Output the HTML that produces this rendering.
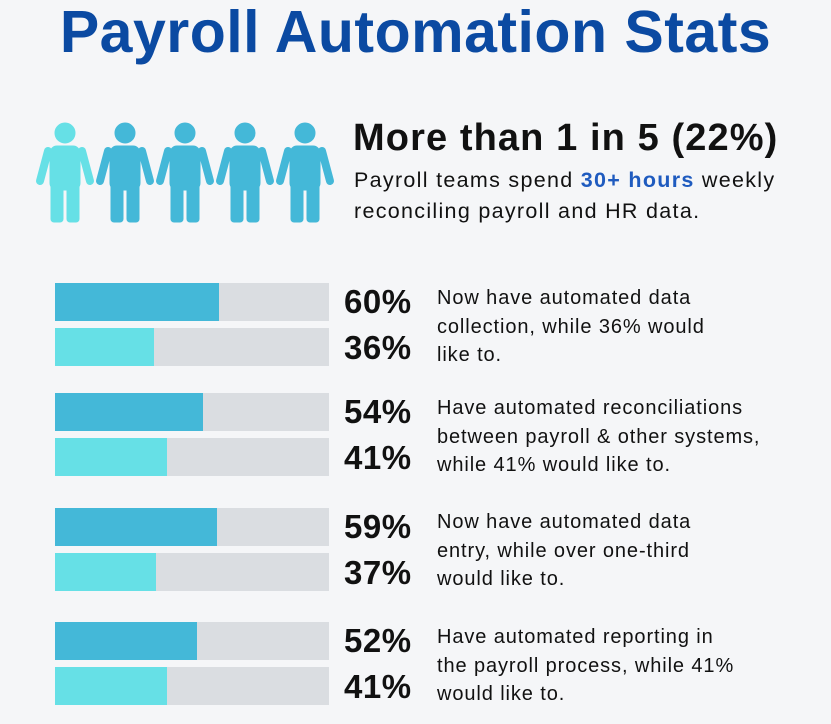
<!DOCTYPE html>
<html><head><style>
body{margin:0;width:831px;height:724px;background:#f5f6f8;position:relative;overflow:hidden;font-family:"Liberation Sans",sans-serif;color:#111}
.t{position:absolute;white-space:nowrap}
.bar{position:absolute;left:55px;width:274px;height:38px;background:#dadde1}
.bar div{height:100%}
.d{background:#44b8d8}.l{background:#66e0e6}
.p{position:absolute;left:344px;font-weight:bold;font-size:33px;line-height:38px;letter-spacing:0.5px}
.desc{position:absolute;left:437px;font-size:20px;line-height:28.5px;width:390px;letter-spacing:0.9px;white-space:nowrap}
</style></head><body>
<div class="t" style="left:0;width:831px;text-align:center;top:-3px;font-size:59px;font-weight:bold;color:#0b4aa2;line-height:70px;letter-spacing:0.5px">Payroll Automation Stats</div>
<svg style="position:absolute;left:0;top:0" width="340" height="240">
<defs><g id="p"><circle cx="0" cy="10" r="10"/><rect x="-15" y="23" width="30" height="44" rx="7"/><rect x="-14" y="55" width="12" height="44" rx="3"/><rect x="2" y="55" width="12" height="44" rx="3"/><line x1="-17" y1="28" x2="-25" y2="58" stroke-width="8" stroke-linecap="round"/><line x1="17" y1="28" x2="25" y2="58" stroke-width="8" stroke-linecap="round"/></g></defs>
<use href="#p" x="65" y="123" fill="#66e0e6" stroke="#66e0e6"/>
<use href="#p" x="125" y="123" fill="#44b8d8" stroke="#44b8d8"/>
<use href="#p" x="185" y="123" fill="#44b8d8" stroke="#44b8d8"/>
<use href="#p" x="245" y="123" fill="#44b8d8" stroke="#44b8d8"/>
<use href="#p" x="305" y="123" fill="#44b8d8" stroke="#44b8d8"/>
</svg>
<div class="t" style="left:353px;top:116px;font-size:38px;font-weight:bold;line-height:44px;letter-spacing:1.1px">More than 1 in 5 (22%)</div>
<div class="t" style="left:354px;top:165px;font-size:21.5px;line-height:31px;letter-spacing:1.3px">Payroll teams spend <b style="color:#1f5bbf">30+ hours</b> weekly<br>reconciling payroll and HR data.</div>

<div class="bar" style="top:283px"><div class="d" style="width:60%"></div></div>
<div class="bar" style="top:328px"><div class="l" style="width:36%"></div></div>
<div class="p" style="top:283px">60%</div><div class="p" style="top:329px">36%</div>
<div class="desc" style="top:284px">Now have automated data<br>collection, while 36% would<br>like to.</div>

<div class="bar" style="top:393px"><div class="d" style="width:54%"></div></div>
<div class="bar" style="top:438px"><div class="l" style="width:41%"></div></div>
<div class="p" style="top:393px">54%</div><div class="p" style="top:439px">41%</div>
<div class="desc" style="top:394px">Have automated reconciliations<br>between payroll &amp; other systems,<br>while 41% would like to.</div>

<div class="bar" style="top:508px"><div class="d" style="width:59%"></div></div>
<div class="bar" style="top:553px"><div class="l" style="width:37%"></div></div>
<div class="p" style="top:508px">59%</div><div class="p" style="top:554px">37%</div>
<div class="desc" style="top:508px">Now have automated data<br>entry, while over one-third<br>would like to.</div>

<div class="bar" style="top:622px"><div class="d" style="width:52%"></div></div>
<div class="bar" style="top:667px"><div class="l" style="width:41%"></div></div>
<div class="p" style="top:622px">52%</div><div class="p" style="top:668px">41%</div>
<div class="desc" style="top:623px">Have automated reporting in<br>the payroll process, while 41%<br>would like to.</div>
</body></html>
